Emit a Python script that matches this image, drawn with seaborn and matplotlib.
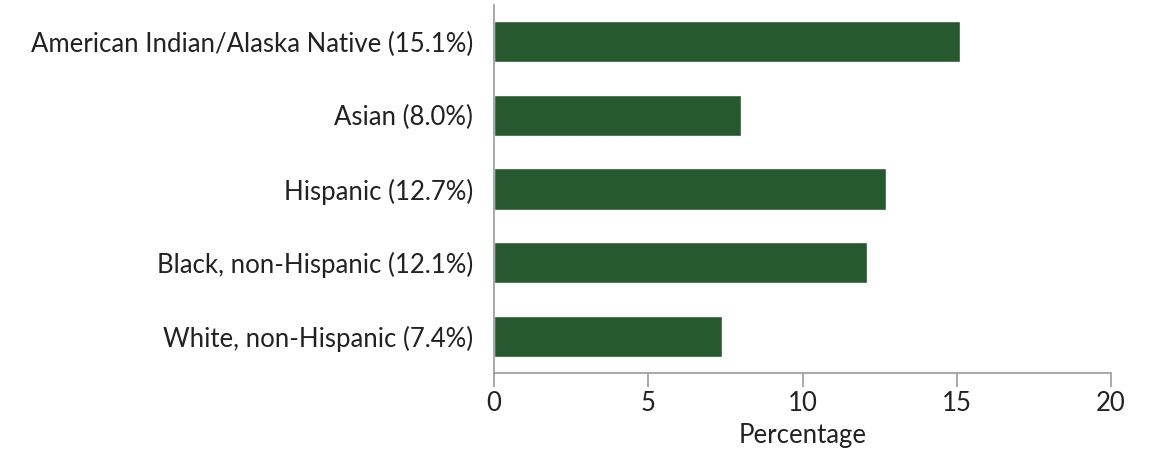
import matplotlib
matplotlib.use("Agg")
import matplotlib.pyplot as plt
import seaborn as sns
import pandas as pd

# data
groups = ["American Indian/Alaska Native (15.1%)", "Asian (8.0%)", "Hispanic (12.7%)",
          "Black, non-Hispanic (12.1%)", "White, non-Hispanic (7.4%)"]
values = [15.1, 8.0, 12.7, 12.1, 7.4]
xticks = [0, 5, 10, 15, 20]

df = pd.DataFrame({"group": groups, "pct": values})

sns.set_style("white")
plt.rcParams['font.family'] = ['Lato', 'DejaVu Sans']

fig = plt.figure(figsize=(11.5, 4.54), dpi=100)
ax = fig.add_axes([0.4296, 0.1784, 0.5365, 0.8106])

sns.barplot(data=df, x="pct", y="group", color="#265a2e", saturation=1,
            width=0.56, ax=ax)

ax.set_xlim(0, 20)
ax.set_ylim(4.5, -0.5)
ax.set_xticks(xticks)
ax.set_xticklabels([str(t) for t in xticks], fontsize=18.5, color="#222222")
ax.set_yticklabels(groups, fontsize=18.5, color="#222222")
ax.set_xlabel("Percentage", fontsize=18.5, color="#222222", labelpad=5)
ax.set_ylabel("")

for s in ["top", "right"]:
    ax.spines[s].set_visible(False)
for s in ["left", "bottom"]:
    ax.spines[s].set_color("#9a9a9a")
    ax.spines[s].set_linewidth(1.2)

ax.tick_params(axis="x", length=10, width=1.2, color="#9a9a9a", pad=3, direction="out", bottom=True)
ax.tick_params(axis="y", length=0, pad=15)

fig.savefig("out.png", dpi=100)
